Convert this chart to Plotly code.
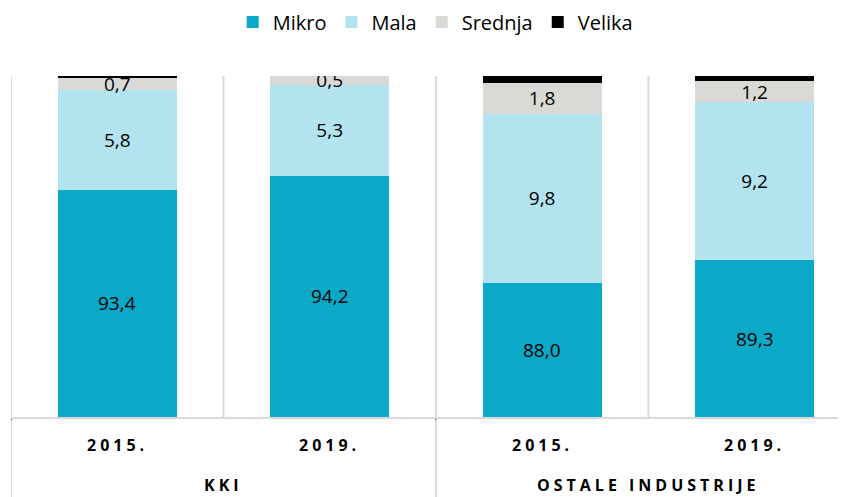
import plotly.graph_objects as go

groups = ["KKI", "KKI", "OSTALE INDUSTRIJE", "OSTALE INDUSTRIJE"]
years = ["2015.", "2019.", "2015.", "2019."]
mikro = [93.4, 94.2, 88.0, 89.3]
mala = [5.8, 5.3, 9.8, 9.2]
srednja = [0.7, 0.5, 1.8, 1.2]
velika = [0.1, 0.0, 0.4, 0.3]
y_min = 80.2

series = [
    ("Mikro", mikro, "#0AA9C8", False),
    ("Mala", mala, "#B3E3EE", True),
    ("Srednja", srednja, "#D9D9D6", True),
    ("Velika", velika, "#000000", False),
]

FONT = "Open Sans"
LBL = 19
GRID = "#D9D9D9"

def fmt(v):
    return f"{v:.1f}".replace(".", ",")

fig = go.Figure()
for name, vals, color, lab in series:
    fig.add_trace(go.Bar(
        name=name, x=[groups, years], y=vals, marker=dict(color=color, line=dict(width=0)),
        text=[fmt(v) for v in vals] if lab else None,
        textposition="inside" if lab else "none", insidetextanchor="middle",
        textfont=dict(color="black", size=LBL, family=FONT),
        hoverinfo="skip",
    ))

annotations = []
# Mikro labels at the middle of the visible part of the bar
for i, v in enumerate(mikro):
    annotations.append(dict(x=i, y=(y_min + v) / 2, xref="x", yref="y", text=fmt(v),
                            showarrow=False, font=dict(size=LBL, family=FONT, color="black")))
# Year labels
for i, yr in enumerate(years):
    annotations.append(dict(x=i, y=-0.082, xref="x", yref="paper", yanchor="middle",
                            text=f'<span style="letter-spacing:4px">{yr}</span>',
                            showarrow=False, font=dict(size=16, family=FONT, color="black", weight="bold")))
# Group labels
seen = []
for g in groups:
    if g not in seen:
        seen.append(g)
for g in seen:
    idx = [i for i, gg in enumerate(groups) if gg == g]
    annotations.append(dict(x=sum(idx) / len(idx), y=-0.2, xref="x", yref="paper", yanchor="middle",
                            text=f'<span style="letter-spacing:4px">{g}</span>',
                            showarrow=False, font=dict(size=16, family=FONT, color="black", weight="bold")))

shapes = []
for k in range(len(years) + 1):
    shapes.append(dict(type="line", xref="x", yref="paper", x0=k - 0.5, x1=k - 0.5, y0=0, y1=1,
                       line=dict(color=GRID, width=2), layer="below"))
# group dividers in the label area
bounds = [-0.5] + [i - 0.5 for i in range(1, len(groups)) if groups[i] != groups[i - 1]]
for b in bounds:
    shapes.append(dict(type="line", xref="x", yref="paper", x0=b, x1=b, y0=-0.26, y1=0,
                       line=dict(color=GRID, width=2), layer="below"))

# page body has an 8px margin, so the figure is sized 8px smaller
fig.update_layout(
    barmode="stack", bargap=0.44,
    width=838, height=489,
    margin=dict(l=3, r=0, t=68, b=80, autoexpand=False),
    plot_bgcolor="white", paper_bgcolor="white",
    font=dict(family=FONT, color="black"),
    uniformtext=dict(minsize=LBL, mode="show"),
    shapes=shapes, annotations=annotations,
    legend=dict(orientation="h", x=0.508, xanchor="center", y=1.158, yanchor="middle",
                font=dict(size=20, family=FONT), itemwidth=30, traceorder="normal"),
    yaxis=dict(range=[y_min, 100], visible=False),
    xaxis=dict(range=[-0.5, 3.43], showline=True, linecolor=GRID, linewidth=2, showgrid=False,
               showticklabels=False, ticks="", automargin=False),
)
fig.write_html("out.html")
